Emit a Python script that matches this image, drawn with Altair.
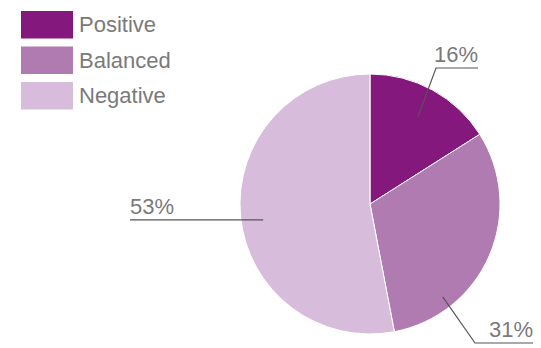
import math
import altair as alt
import pandas as pd

# ---- data ----
categories = ["Positive", "Balanced", "Negative"]
shares = [16, 31, 53]
labels = ["16%", "31%", "53%"]
colors = ["#84187c", "#b07bb0", "#d7bddb"]

# ---- layout (pixels, relative to the pie centre) ----
W, H = 541, 348
CX, CY = 370, 204
R = 130
FONT = "Liberation Sans"
TXT = "#7a7a7a"

label_layout = {
    "Positive": dict(frac=0.5, r=100, elbow=(66, -136), end=108, side="right"),
    "Balanced": dict(frac=0.756, r=118, elbow=(105, 139), end=163, side="right"),
    "Negative": dict(frac=0.484, r=108, elbow=None, end=-240, side="left"),
}

total = sum(shares)
pie = pd.DataFrame({"cat": categories, "share": shares, "idx": range(len(shares))})

line_rows, text_rows = [], []
start = 0.0
for cat, s, lab in zip(categories, shares, labels):
    span = s / total * 360.0
    L = label_layout[cat]
    ang = math.radians(start + L["frac"] * span)
    ax, ay = L["r"] * math.sin(ang), -L["r"] * math.cos(ang)
    pts = [(ax, ay)]
    if L["elbow"] is not None:
        pts.append(L["elbow"])
    ly = pts[-1][1]
    pts.append((L["end"], ly))
    for k, (px, py) in enumerate(pts):
        line_rows.append({"cat": cat, "k": k, "x": px, "y": py})
    text_rows.append({"lab": lab, "x": L["end"], "y": ly - 6, "side": L["side"]})
    start += span

lines = pd.DataFrame(line_rows)
texts = pd.DataFrame(text_rows)

leg_rows = []
for i, cat in enumerate(categories):
    top = 11 + i * 35.5 - CY
    leg_rows.append({"cat": cat, "x": 21 - CX, "x2": 73 - CX, "y": top, "y2": top + 27.5,
                     "tx": 79 - CX, "ty": top + 21})
legend = pd.DataFrame(leg_rows)

xs = alt.Scale(domain=[-CX, W - CX], nice=False, zero=False)
ys = alt.Scale(domain=[-CY, H - CY], nice=False, zero=False, reverse=True)
cscale = alt.Scale(domain=categories, range=colors)

arcs = alt.Chart(pie).mark_arc(radius=R, stroke="white", strokeWidth=1).encode(
    x=alt.X(datum=0, type="quantitative", scale=xs, axis=None),
    y=alt.Y(datum=0, type="quantitative", scale=ys, axis=None),
    theta=alt.Theta("share:Q", stack=True),
    color=alt.Color("cat:N", scale=cscale, legend=None),
    order=alt.Order("idx:Q"),
)

leader = alt.Chart(lines).mark_line(color="#555555", strokeWidth=1.2).encode(
    x=alt.X("x:Q", scale=xs, axis=None),
    y=alt.Y("y:Q", scale=ys, axis=None),
    detail="cat:N",
    order="k:Q",
)

txt_right = alt.Chart(texts).transform_filter("datum.side == 'right'").mark_text(
    align="right", baseline="alphabetic", font=FONT, fontSize=22, color=TXT
).encode(
    x=alt.X("x:Q", scale=xs, axis=None),
    y=alt.Y("y:Q", scale=ys, axis=None),
    text="lab:N",
)
txt_left = alt.Chart(texts).transform_filter("datum.side == 'left'").mark_text(
    align="left", baseline="alphabetic", font=FONT, fontSize=22, color=TXT
).encode(
    x=alt.X("x:Q", scale=xs, axis=None),
    y=alt.Y("y:Q", scale=ys, axis=None),
    text="lab:N",
)

leg_rect = alt.Chart(legend).mark_rect().encode(
    x=alt.X("x:Q", scale=xs, axis=None),
    x2="x2:Q",
    y=alt.Y("y:Q", scale=ys, axis=None),
    y2="y2:Q",
    color=alt.Color("cat:N", scale=cscale, legend=None),
)
leg_text = alt.Chart(legend).mark_text(
    align="left", baseline="alphabetic", font=FONT, fontSize=22, color=TXT
).encode(
    x=alt.X("tx:Q", scale=xs, axis=None),
    y=alt.Y("ty:Q", scale=ys, axis=None),
    text="cat:N",
)

chart = alt.layer(arcs, leader, txt_right, txt_left, leg_rect, leg_text).properties(
    width=W, height=H, autosize=alt.AutoSizeParams(type="none"), padding=0
).configure_view(stroke=None)

chart.save("out.html", embed_options={"renderer": "svg", "actions": False})
